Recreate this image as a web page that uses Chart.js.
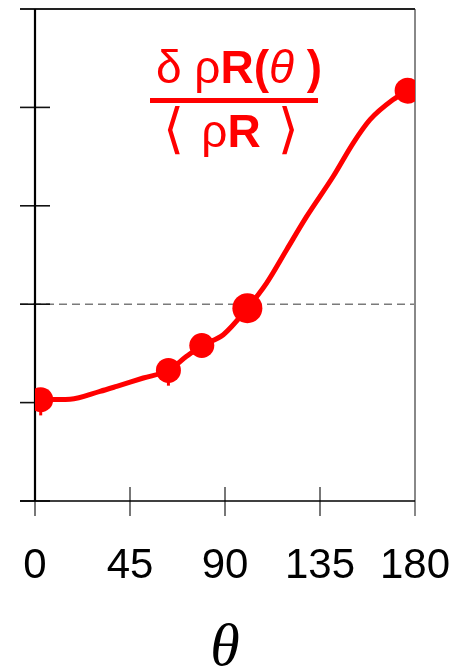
<!DOCTYPE html>
<html>
<head>
<meta charset="utf-8">
<script src="https://cdn.jsdelivr.net/npm/chart.js@4/dist/chart.umd.min.js"></script>
<style>
html,body{margin:0;padding:0;background:#fff;}
#c{display:block;}
</style>
</head>
<body>
<canvas id="c" width="463" height="667"></canvas>
<script>
// ---- data ----
const xTicks = [0, 45, 90, 135, 180];
const yTicks = [-0.2, -0.1, 0, 0.1, 0.2, 0.3];
const refLine = 0;
const pointTheta = [2.7, 63.2, 79, 100.6, 176.5];
const pointValue = [-0.097, -0.0673, -0.042, -0.004, 0.217];
const pointSize = [12.5, 12.5, 12.5, 15, 13];
const pointErrLow = [0.016, 0.0155, 0, 0, 0];
const curveTheta = [2.7, 16.6, 30.8, 38.7, 51.3, 63.2, 71.8, 79, 89.2, 100.6, 109.7, 119.2, 128.7, 141.3, 150.8, 158.7, 169.7, 176.5];
const curveValue = [-0.097, -0.0965, -0.0886, -0.0835, -0.075, -0.0673, -0.053, -0.042, -0.031, -0.004, 0.0215, 0.0554, 0.0892, 0.13, 0.164, 0.1875, 0.208, 0.217];

const RED = '#ff0000';

const framePlugin = {
  id: 'frame',
  beforeDatasetsDraw(chart) {
    const ctx = chart.ctx, xs = chart.scales.x, ys = chart.scales.y;
    const L = xs.left, R = xs.right, T = ys.top, B = ys.bottom;
    ctx.save();
    // dashed reference line
    ctx.strokeStyle = '#7a7a7a';
    ctx.lineWidth = 1.6;
    ctx.setLineDash([8, 5]);
    const yr = ys.getPixelForValue(refLine);
    ctx.beginPath(); ctx.moveTo(L - 15, yr); ctx.lineTo(R, yr); ctx.stroke();
    ctx.setLineDash([]);
    // x ticks
    ctx.strokeStyle = '#777';
    ctx.lineWidth = 2;
    xTicks.forEach(v => {
      const px = xs.getPixelForValue(v);
      ctx.beginPath(); ctx.moveTo(px, B - 14); ctx.lineTo(px, B + 15); ctx.stroke();
    });
    // right border
    ctx.strokeStyle = '#888';
    ctx.lineWidth = 2;
    ctx.beginPath(); ctx.moveTo(R, T); ctx.lineTo(R, B + 15); ctx.stroke();
    // y ticks
    ctx.strokeStyle = '#111';
    ctx.lineWidth = 1.6;
    yTicks.forEach(v => {
      const py = ys.getPixelForValue(v);
      ctx.beginPath(); ctx.moveTo(L - 15, py); ctx.lineTo(L + 15, py); ctx.stroke();
    });
    // top border
    ctx.strokeStyle = '#222';
    ctx.lineWidth = 2;
    ctx.beginPath(); ctx.moveTo(L - 15, T); ctx.lineTo(R, T); ctx.stroke();
    // bottom axis
    ctx.strokeStyle = '#000';
    ctx.lineWidth = 1.6;
    ctx.beginPath(); ctx.moveTo(L - 15, B); ctx.lineTo(R, B); ctx.stroke();
    // left axis
    ctx.lineWidth = 2.2;
    ctx.beginPath(); ctx.moveTo(L, T); ctx.lineTo(L, B); ctx.stroke();
    // error stubs
    ctx.strokeStyle = RED;
    ctx.lineWidth = 3;
    pointTheta.forEach((t, i) => {
      if (!pointErrLow[i]) return;
      const px = xs.getPixelForValue(t);
      ctx.beginPath();
      ctx.moveTo(px, ys.getPixelForValue(pointValue[i]));
      ctx.lineTo(px, ys.getPixelForValue(pointValue[i] - pointErrLow[i]));
      ctx.stroke();
    });
    ctx.restore();
  },
  afterDraw(chart) {
    const ctx = chart.ctx;
    ctx.save();
    ctx.fillStyle = RED;
    ctx.textBaseline = 'alphabetic';
    const cx = 239;
    // numerator
    const segs = [
      ['δ ρ', '46px "Liberation Sans", Arial, sans-serif'],
      ['R(', 'bold 46px "Liberation Sans", Arial, sans-serif'],
      ['θ', 'italic 46px "Liberation Sans", Arial, sans-serif'],
      [' )', 'bold 46px "Liberation Sans", Arial, sans-serif']
    ];
    let w = 0;
    segs.forEach(s => { ctx.font = s[1]; w += ctx.measureText(s[0]).width; });
    let x = cx - w / 2;
    segs.forEach(s => { ctx.font = s[1]; ctx.fillText(s[0], x, 83); x += ctx.measureText(s[0]).width; });
    // bar
    ctx.fillRect(150, 98, 168, 5);
    // denominator
    const segs2 = [
      ['⟨ ', '54px "DejaVu Sans", sans-serif'],
      ['ρ', '46px "Liberation Sans", Arial, sans-serif'],
      ['R', 'bold 46px "Liberation Sans", Arial, sans-serif'],
      [' ⟩', '54px "DejaVu Sans", sans-serif']
    ];
    w = 0;
    segs2.forEach(s => { ctx.font = s[1]; w += ctx.measureText(s[0]).width; });
    x = 231 - w / 2;
    segs2.forEach(s => { ctx.font = s[1]; ctx.fillText(s[0], x, 147); x += ctx.measureText(s[0]).width; });
    ctx.restore();
  }
};

new Chart(document.getElementById('c'), {
  type: 'scatter',
  data: {
    datasets: [
      {
        type: 'line',
        data: curveTheta.map((t, i) => ({x: t, y: curveValue[i]})),
        borderColor: RED,
        borderWidth: 5,
        pointRadius: 0,
        fill: false,
        cubicInterpolationMode: 'monotone',
        order: 2
      },
      {
        type: 'scatter',
        data: pointTheta.map((t, i) => ({x: t, y: pointValue[i]})),
        backgroundColor: RED,
        borderColor: RED,
        borderWidth: 0,
        pointRadius: pointSize,
        order: 1
      }
    ]
  },
  options: {
    responsive: false,
    animation: false,
    layout: { autoPadding: false, padding: { left: 0, right: 48, top: 9, bottom: 0 } },
    plugins: { legend: { display: false }, tooltip: { enabled: false } },
    scales: {
      x: {
        type: 'linear', min: 0, max: 180,
        afterBuildTicks: s => { s.ticks = xTicks.map(v => ({value: v})); },
        ticks: { color: '#000', padding: 40, font: { family: '"Liberation Sans", Arial, sans-serif', size: 42 } },
        grid: { display: false, drawTicks: false },
        border: { display: false },
        title: { display: true, text: 'θ', color: '#000', padding: { top: 0, bottom: -12 },
                 font: { family: '"Liberation Serif", "Times New Roman", serif', style: 'italic', size: 60, lineHeight: 1 } },
        afterFit: s => { s.height = 166; s.paddingLeft = 0; s.paddingRight = 0; }
      },
      y: {
        type: 'linear', min: -0.2, max: 0.3,
        afterBuildTicks: s => { s.ticks = yTicks.map(v => ({value: v})); },
        ticks: { display: false },
        grid: { display: false, drawTicks: false },
        border: { display: false },
        afterFit: s => { s.width = 35; s.paddingTop = 0; s.paddingBottom = 0; }
      }
    }
  },
  plugins: [framePlugin]
});
</script>
</body>
</html>
